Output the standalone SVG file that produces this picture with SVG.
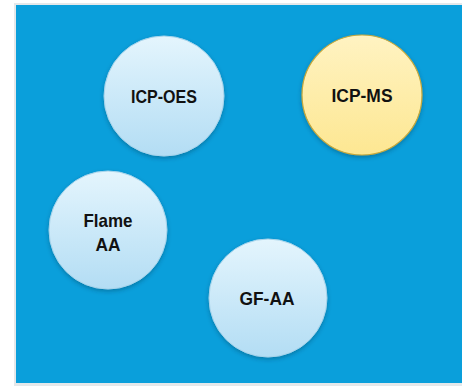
<svg xmlns="http://www.w3.org/2000/svg" width="462" height="389" viewBox="0 0 462 389">
<defs>
<linearGradient id="gBlue" x1="0" y1="0" x2="0" y2="1">
<stop offset="0" stop-color="#e4f5fd"/>
<stop offset="1" stop-color="#b3ddf4"/>
</linearGradient>
<linearGradient id="gYellow" x1="0" y1="0" x2="0" y2="1">
<stop offset="0" stop-color="#fff3c2"/>
<stop offset="1" stop-color="#fde792"/>
</linearGradient>
<filter id="sh" x="-20%" y="-20%" width="140%" height="150%">
<feDropShadow dx="0" dy="2" stdDeviation="2" flood-color="#00304a" flood-opacity="0.35"/>
</filter>
</defs>
<style>
.lb{fill:url(#gBlue);stroke:#a6d3ea;stroke-width:1;filter:url(#sh)}
.yl{fill:url(#gYellow);stroke:#c8a838;stroke-width:1.2;filter:url(#sh)}
text{font-family:"Liberation Sans",Arial,sans-serif;font-weight:bold;font-size:18.5px;fill:#111111;text-anchor:middle}
</style>
<rect x="0" y="0" width="462" height="389" fill="#ffffff"/>
<rect x="14" y="3" width="448" height="383" fill="#e4e8ea"/>
<rect x="16" y="5" width="446" height="378" fill="#0a9fdb"/>
<g id="icp-oes">
<circle class="lb" cx="164" cy="96" r="60"/>
<text x="164" y="103" textLength="66" lengthAdjust="spacingAndGlyphs">ICP-OES</text>
</g>
<g id="icp-ms">
<circle class="yl" cx="362" cy="95" r="60"/>
<text x="362" y="102" textLength="61" lengthAdjust="spacingAndGlyphs">ICP-MS</text>
</g>
<g id="flame-aa">
<circle class="lb" cx="108" cy="230" r="59"/>
<text x="108" y="227" textLength="49" lengthAdjust="spacingAndGlyphs">Flame</text>
<text x="108" y="251" textLength="25" lengthAdjust="spacingAndGlyphs">AA</text>
</g>
<g id="gf-aa">
<circle class="lb" cx="268" cy="298" r="59"/>
<text x="267" y="305" textLength="55" lengthAdjust="spacingAndGlyphs">GF-AA</text>
</g>
<g id="connectors"></g>
</svg>
